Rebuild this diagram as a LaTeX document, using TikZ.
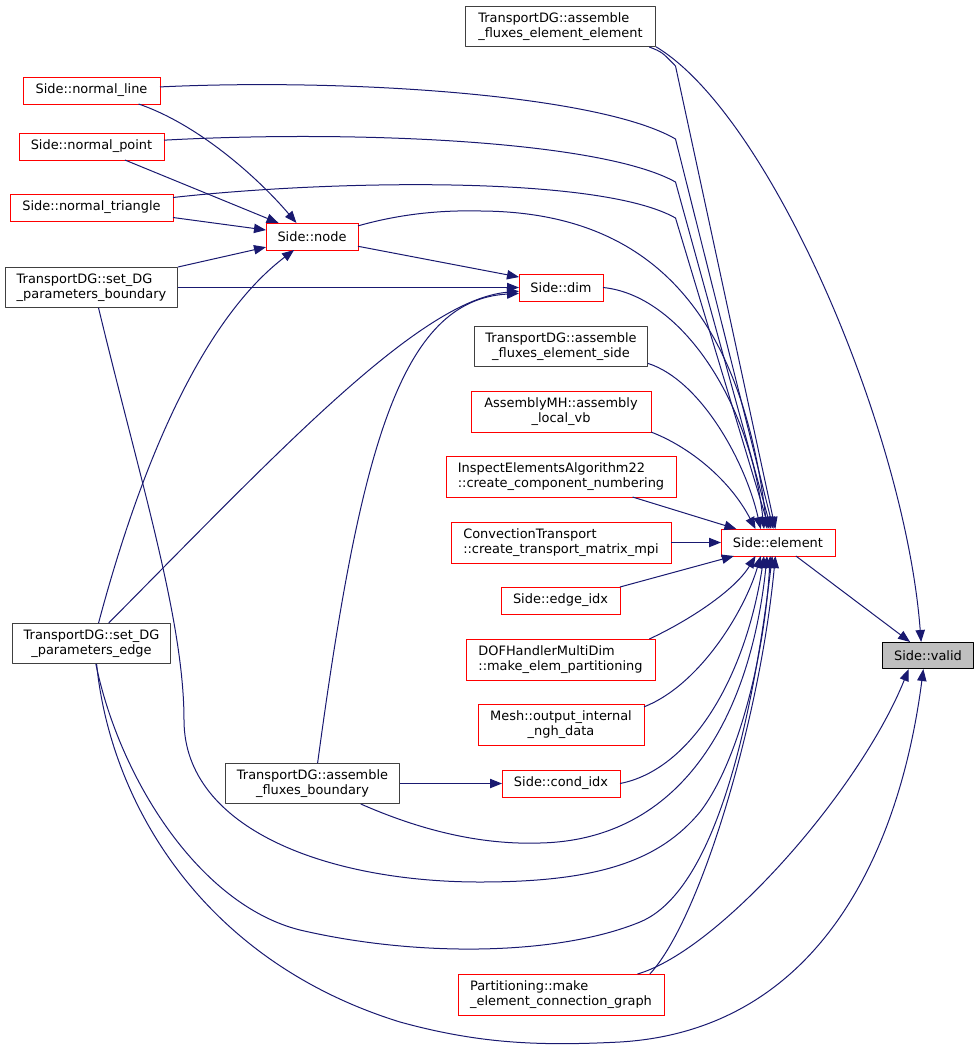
\documentclass[tikz,border=0pt]{standalone}
\usepackage{fontspec}
\setmainfont{DejaVu Sans}
\usetikzlibrary{arrows.meta}
\usetikzlibrary{backgrounds}
\definecolor{midblue}{HTML}{191970}
\definecolor{boxgray}{HTML}{404040}
\definecolor{boxred}{HTML}{FF0000}
\definecolor{curgray}{HTML}{BFBFBF}
\tikzset{box/.style={rectangle, inner sep=0pt, line width=.75pt, minimum height=19.5pt, font=\fontsize{9.7}{11.25}\selectfont}}
\tikzset{rn/.style={box, minimum width=#1*.75pt}}
\tikzset{bn/.style={box, draw=boxgray, minimum width=#1*.75pt}}
\tikzset{cn/.style={box, draw=black, fill=curgray, minimum width=#1*.75pt}}
\tikzset{tall/.style={minimum height=30pt}}
\tikzset{ed/.style={draw=midblue, line width=.75pt, -{Triangle[length=9pt,width=7pt]}}}

\begin{document}
\begin{tikzpicture}[line join=round, x=.75pt, y=-.75pt]
            \useasboundingbox (0,0) rectangle (979,1050);
            \node[cn=91] (valid) at (928,655.5) {Side::valid};
            \node[rn=113] (elem) at (778,542.5) {Side::element};
            \node[bn=190, tall, align=left] (aee) at (560.5,26.5) {TransportDG::assemble\\\_fluxes\_element\_element};
            \node[rn=136] (nline) at (91.5,90.5) {Side::normal\_line};
            \node[rn=144] (npoint) at (91.5,146.5) {Side::normal\_point};
            \node[rn=162] (ntri) at (91.5,207.5) {Side::normal\_triangle};
            \node[rn=91] (snode) at (312,236.5) {Side::node};
            \node[bn=172, tall, align=left] (sdgb) at (91.5,287.5) {TransportDG::set\_DG\\\_parameters\_boundary};
            \node[rn=83] (dim) at (561,287.5) {Side::dim};
            \node[bn=173, tall, align=center] (aes) at (561,346.5) {TransportDG::assemble\\\_fluxes\_element\_side};
            \node[rn=179, tall, align=center] (amh) at (561,411.5) {AssemblyMH::assembly\\\_local\_vb};
            \node[rn=229, tall, align=left] (iea) at (561,476.5) {InspectElementsAlgorithm22\\::create\_component\_numbering};
            \node[rn=219, tall, align=left] (ct) at (561,542.5) {ConvectionTransport\\::create\_transport\_matrix\_mpi};
            \node[rn=118] (eidx) at (560.5,600.5) {Side::edge\_idx};
            \node[rn=188, tall, align=left] (dof) at (560.5,659.5) {DOFHandlerMultiDim\\::make\_elem\_partitioning};
            \node[rn=165, tall, align=center] (mesh) at (561,724.5) {Mesh::output\_internal\\\_ngh\_data};
            \node[rn=117] (cidx) at (561,783.5) {Side::cond\_idx};
            \node[bn=174, tall, align=center] (afb) at (312.5,783.5) {TransportDG::assemble\\\_fluxes\_boundary};
            \node[bn=158, tall, align=center] (sdge) at (91.5,643.5) {TransportDG::set\_DG\\\_parameters\_edge};
            \node[rn=205, tall, align=left] (part) at (561,994.5) {Partitioning::make\\\_element\_connection\_graph};
            \begin{scope}[on background layer]
              \foreach \n in {elem,nline,npoint,ntri,snode,dim,amh,iea,ct,eidx,dof,mesh,cidx,part} {
                \fill[boxred] ([shift={(-.5,.5)}]\n.south west) rectangle ([shift={(.5,-.5)}]\n.north east);
                \fill[white] ([shift={(.5,-.5)}]\n.south west) rectangle ([shift={(-.5,.5)}]\n.north east);
              }
            \end{scope}
            \draw[ed] (elem) -- (valid);
            \draw[ed] (aee.-12.5) .. controls (770,115) and (905,430) .. (valid.117);
            \draw[ed] (part.15) .. controls (720,950) and (860,790) .. (valid.-145);
            \draw[ed] (sdge.-76) .. controls (110,800) and (200,960) .. (400,1022) .. controls (480,1044) and (540,1046) .. (620,1042) .. controls (820,1030) and (900,850) .. (valid.-109);
            \draw[ed] (aee.-13.5) .. controls (662,52) .. (675.5,66) -- (elem.101);
            \draw[ed] (nline.3) .. controls (350,78) and (600,95) .. (675.5,139) -- (elem.109);
            \draw[ed] (npoint.5) .. controls (350,130) and (600,140) .. (675.5,182) -- (elem.117);
            \draw[ed] (ntri.7) .. controls (330,180) and (600,175) .. (675.5,218) -- (elem.123);
            \draw[ed] (snode.13) .. controls (400,214) and (440,210) .. (481,211) .. controls (640,212) and (740,300) .. (elem.129);
            \draw[ed] (dim.east) .. controls (680,295) and (750,400) .. (elem.136);
            \draw[ed] (aes.-11) .. controls (700,380) and (745,460) .. (elem.142);
            \draw[ed] (amh.south east) .. controls (690,447) and (730,480) .. (elem.149);
            \draw[ed] (iea.-16) -- (elem.162);
            \draw[ed] (ct) -- (elem);
            \draw[ed] (eidx.north east) -- (elem.-163);
            \draw[ed] (dof.13) .. controls (690,620) and (735,590) .. (elem.-149);
            \draw[ed] (mesh.12) .. controls (700,685) and (745,610) .. (elem.-142);
            \draw[ed] (cidx.east) .. controls (690,770) and (745,680) .. (elem.-136);
            \draw[ed] (afb.-23) .. controls (420,830) and (480,845) .. (540,843) .. controls (680,840) and (750,720) .. (elem.-129);
            \draw[ed] (sdgb.-71) .. controls (140,480) and (184,620) .. (184,720) .. controls (184,830) and (330,882) .. (480,882) .. controls (600,882) and (660,860) .. (700,812) .. controls (740,760) and (765,650) .. (elem.-120);
            \draw[ed] (sdge.-78) .. controls (120,780) and (200,905) .. (300,930) .. controls (420,958) and (560,955) .. (640,922) .. controls (720,889) and (755,700) .. (elem.-113);
            \draw[ed] (part.13) .. controls (700,920) and (760,720) .. (elem.-101);
            \draw[ed] (nline.-16) .. controls (200,125) and (260,180) .. (snode.139);
            \draw[ed] (npoint.-22) -- (snode.158);
            \draw[ed] (ntri.-7) -- (snode.172);
            \draw[ed] (sdgb.north east) -- (snode.-167);
            \draw[ed] (sdge.71) .. controls (150,430) and (215,310) .. (snode.-143);
            \draw[ed] (snode.-12) -- (dim.166);
            \draw[ed] (sdgb.east) -- (dim.west);
            \draw[ed] (sdge.50) .. controls (280,450) and (420,300) .. (dim.-175);
            \draw[ed] (afb.76) .. controls (360,450) and (400,300) .. (dim.-172);
            \draw[ed] (afb) -- (cidx);
          \end{tikzpicture}
\end{document}
